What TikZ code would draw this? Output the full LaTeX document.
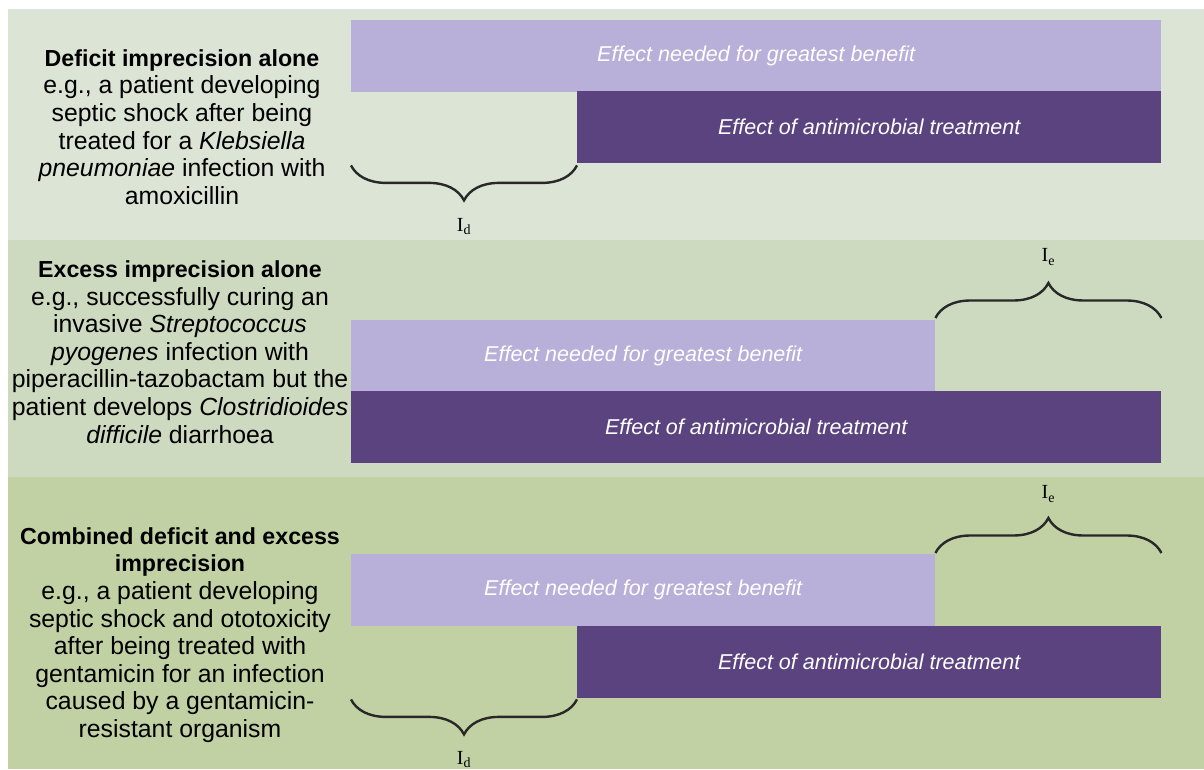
\documentclass[tikz,border=0pt]{standalone}
\usepackage{fontspec}
\setmainfont{Liberation Sans}
\newfontfamily\labelfont{Liberation Serif}
\usepackage{xcolor}
\usetikzlibrary{decorations.pathreplacing}
\definecolor{panelA}{RGB}{220,228,214}
\definecolor{panelB}{RGB}{206,218,192}
\definecolor{panelC}{RGB}{194,209,164}
\definecolor{needcol}{RGB}{184,176,216}
\definecolor{effcol}{RGB}{91,67,128}
\definecolor{bracecol}{RGB}{40,40,40}
\newcommand{\headtext}[1]{{\fontsize{23.2}{27.6}\selectfont\bfseries #1}}

\begin{document}
\begin{tikzpicture}[x=1pt,y=1pt,
    needbar/.style={fill=needcol, minimum height=72pt, anchor=north west, inner sep=0pt,
      text=white, font=\fontsize{21.5}{24}\selectfont\itshape},
    effbar/.style={needbar, fill=effcol},
    bracepath/.style={decorate, decoration={brace, amplitude=35pt}, line width=2.4pt, draw=bracecol},
    imp/.style={font=\labelfont\fontsize{20}{22}\selectfont},
    sidetext/.style={align=center, font=\fontsize{24.8}{27.6}\selectfont}]
    \useasboundingbox (0,0) rectangle (1204,769);
    \fill[white] (0,0) rectangle (1204,769);
    \fill[panelA] (8,529) rectangle (1204,760);
    \fill[panelB] (8,292) rectangle (1204,529);
    \fill[panelC] (8,0) rectangle (1204,292);

    \node[sidetext] (desc1) at (182,642) {\headtext{Deficit imprecision alone}\\
        e.g., a patient developing\\ septic shock after being\\
        treated for a \textit{Klebsiella}\\ \textit{pneumoniae} infection with\\ amoxicillin};
    \node[needbar, minimum width=810pt] (need1) at (351,749) {Effect needed for greatest benefit};
    \node[effbar, minimum width=584pt] (eff1) at (577,678) {Effect of antimicrobial treatment};
    \draw[bracepath] ([yshift=-2pt]eff1.south west) -- ([yshift=-2pt]eff1.south west -| need1.west)
        node[imp, midway, yshift=-61pt] (id1) {I\textsubscript{d}};

    \node[sidetext] (desc2) at (180,417) {\headtext{Excess imprecision alone}\\
        e.g., successfully curing an\\ invasive \textit{Streptococcus}\\
        \textit{pyogenes} infection with\\ piperacillin-tazobactam but the\\
        patient develops \textit{Clostridioides}\\ \textit{difficile} diarrhoea};
    \node[needbar, minimum width=584pt] (need2) at (351,449) {Effect needed for greatest benefit};
    \node[effbar, minimum width=810pt] (eff2) at (351,378) {Effect of antimicrobial treatment};
    \draw[bracepath] ([yshift=2pt]need2.north east) -- ([yshift=2pt]need2.north -| eff2.east)
        node[imp, midway, yshift=61pt] (ie2) {I\textsubscript{e}};

    \node[sidetext] (desc3) at (180,134) {\headtext{Combined deficit and excess}\\
        \headtext{imprecision}\\ e.g., a patient developing\\ septic shock and ototoxicity\\
        after being treated with\\ gentamicin for an infection\\
        caused by a gentamicin-\\ resistant organism};
    \node[needbar, minimum width=584pt] (need3) at (351,215) {Effect needed for greatest benefit};
    \node[effbar, minimum width=584pt] (eff3) at (577,143) {Effect of antimicrobial treatment};
    \draw[bracepath] ([yshift=1pt]need3.north east) -- ([yshift=1pt]need3.north -| eff3.east)
        node[imp, midway, yshift=59pt] (ie3) {I\textsubscript{e}};
    \draw[bracepath] ([yshift=-1pt]eff3.south west) -- ([yshift=-1pt]eff3.south west -| need3.west)
        node[imp, midway, yshift=-60pt] (id3) {I\textsubscript{d}};
\end{tikzpicture}
\end{document}
